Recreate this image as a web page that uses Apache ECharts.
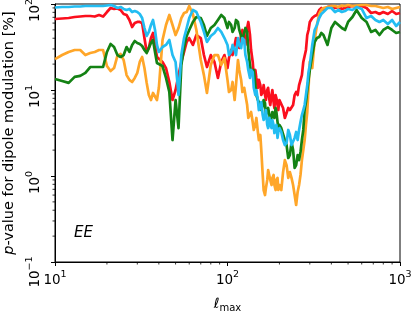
<!DOCTYPE html>
<html>
<head>
<meta charset="utf-8">
<script src="https://cdn.jsdelivr.net/npm/echarts@6/dist/echarts.min.js"></script>
<style>
  html,body{margin:0;padding:0;background:#fff;}
  #chart{width:411px;height:313px;}
</style>
</head>
<body>
<div id="chart"></div>
<script>
// multipole cut l_max
const ell = [10,11,12,13,14,15,16,17,18,19,20,21,22,23,24,25,26,27,28,29,30,31,32,33,34,35,36,37,38,39,40,
  42,44,46,48,50,52,54,56,58,60,
  63,66,70,73,76,80,84,88,92,96,
  100,102,105,107,110,112,115,117,120,122,125,127,130,132,135,137,140,142,145,147,
  150,152,155,157,160,162,165,167,170,172,175,177,180,182,185,187,190,192,195,197,200,
  205,210,215,220,225,230,235,240,245,250,255,260,265,270,275,280,285,290,295,300,
  310,320,330,340,350,360,
  380,400,420,440,460,480,500,
  530,560,600,640,680,720,760,800,850,900,950,1000];

// p-values [%]
const pRed = [66.9,67.8,68.7,70.6,71.5,72.5,72.5,71.5,74.5,71.5,80.7,89.9,87.5,88.7,85.2,76.5,74.5,65.2,54.0,60.1,61.8,61.8,60.1,40.2,27.7,30.8,40.2,46.0,33.4,24.2,23.6,
  21.2,18.0,12.4,7.65,10.0,14.9,21.2,27.7,36.2,40.2,
  33.4,43.6,40.2,25.5,18.5,25.5,21.2,13.8,21.2,25.5,
  18.0,23.6,29.2,25.5,33.4,40.2,36.2,30.8,43.6,49.9,38.1,33.4,52.6,61.8,43.6,29.2,21.2,14.9,17.1,13.8,
  10.6,13.1,11.4,8.75,9.48,11.4,8.75,7.65,10.0,10.6,7.65,6.69,8.75,10.0,7.25,6.18,8.75,8.07,6.69,5.85,7.65,
  8.07,6.18,4.73,4.73,6.18,5.85,5.55,6.69,8.75,9.48,8.75,11.4,11.4,14.9,21.2,22.3,29.2,43.6,49.9,61.8,
  68.7,72.5,74.5,85.2,89.9,85.2,
  92.3,94.8,89.9,92.3,87.5,89.9,92.3,
  94.8,92.3,94.8,89.9,78.6,80.7,76.5,80.7,76.5,82.9,76.5,78.6];

const pOrange = [22.9,25.5,27.7,29.2,29.2,25.5,26.9,27.7,29.2,29.2,19.0,16.6,18.0,24.9,26.2,22.3,14.9,13.1,12.4,13.8,15.8,21.2,24.2,18.0,12.1,8.75,7.65,9.23,8.75,7.65,10.6,
  38.1,57.0,74.5,57.0,43.6,52.6,68.7,78.6,80.7,94.8,
  76.5,49.9,22.3,14.9,9.23,19.5,25.5,25.5,19.5,23.6,
  13.1,9.48,10.0,12.4,7.65,11.4,22.3,17.1,13.1,9.48,10.6,8.75,6.69,4.73,4.73,5.55,4.25,3.43,3.92,4.73,
  3.25,2.62,3.0,2.0,1.03,0.687,0.601,0.725,0.90,1.17,1.17,0.90,0.785,0.95,1.03,0.785,0.687,0.90,0.95,0.687,0.785,
  0.687,1.11,1.53,1.34,0.95,1.11,0.95,0.785,0.601,0.46,0.652,0.785,1.03,1.53,2.0,2.62,3.92,5.55,10.6,21.2,
  18.0,38.1,57.0,76.5,85.2,89.9,
  92.3,94.8,94.8,92.3,96.1,94.8,97.4,
  94.8,96.1,97.4,97.4,94.8,94.8,92.3,89.9,92.3,87.5,89.9,92.3];

const pGreen = [13.4,12.7,12.1,14.2,14.6,15.8,18.5,18.5,18.5,18.5,27.7,34.3,31.6,25.5,24.2,25.5,31.6,27.7,33.4,37.1,35.2,34.3,32.5,29.2,26.9,30.8,35.2,38.1,27.7,20.6,21.7,
  19.0,13.8,9.48,2.62,7.65,3.61,19.5,31.6,42.5,49.9,
  61.8,70.6,68.7,57.0,42.5,52.6,57.0,65.2,74.5,68.7,
  52.6,61.8,57.0,47.3,52.6,65.2,61.8,49.9,47.3,38.1,36.2,52.6,47.3,29.2,19.5,16.2,14.9,17.1,11.4,8.75,
  7.65,8.07,6.69,5.85,6.52,7.65,7.06,5.12,5.55,6.18,5.12,4.25,4.73,5.55,5.85,4.73,6.18,5.55,4.25,3.61,3.92,
  3.61,3.43,2.62,2.29,1.62,1.75,2.48,2.0,1.24,1.34,1.75,1.53,1.90,2.62,3.43,5.85,7.25,10.0,13.1,17.1,
  25.5,36.2,40.2,41.3,46.0,43.6,
  33.4,52.6,61.8,57.0,52.6,49.9,61.8,
  70.6,85.2,68.7,61.8,47.3,49.9,43.6,49.9,54.0,49.9,46.0,47.3];

const pBlue = [91.1,92.3,92.3,93.5,93.5,94.8,94.8,94.8,94.8,94.8,96.1,97.4,94.8,89.9,92.3,87.5,85.2,87.5,80.7,82.9,80.7,76.5,68.7,52.6,42.5,47.3,57.0,65.2,49.9,33.4,27.7,
  31.6,33.4,38.1,25.5,21.2,8.75,25.5,40.2,52.6,68.7,
  85.2,80.7,61.8,47.3,36.2,42.5,46.0,52.6,47.3,40.2,
  33.4,25.5,27.7,33.4,29.2,25.5,40.2,33.4,30.8,40.2,38.1,25.5,21.2,17.1,13.8,17.1,16.2,10.6,8.75,10.0,
  7.65,5.85,6.18,7.25,5.12,4.48,4.85,5.85,3.92,3.61,4.73,3.92,3.61,4.48,3.92,3.16,3.25,3.92,2.77,3.25,3.61,
  3.25,2.62,2.29,2.42,3.43,3.0,2.29,2.29,2.77,3.25,2.62,3.43,4.25,5.12,5.85,6.69,8.75,11.4,16.2,19.5,
  33.4,49.9,57.0,68.7,76.5,80.7,
  89.9,89.9,80.7,85.2,80.7,82.9,87.5,
  85.2,92.3,87.5,68.7,72.5,65.2,61.8,65.2,58.5,65.2,55.5,61.8];

// minor tick values
const xMinor = [20,30,40,50,60,70,80,90,200,300,400,500,600,700,800,900];
const yMinor = [0.2,0.3,0.4,0.5,0.6,0.7,0.8,0.9,2,3,4,5,6,7,8,9,20,30,40,50,60,70,80,90];

const X_MIN = 10, X_MAX = 1000, Y_MIN = 0.1, Y_MAX = 100;
const FONT = 'DejaVu Sans';

function powLabel(v){
    const e = Math.round(Math.log10(v));
    return e < 0 ? '{b|10}{n|\u2212' + (-e) + '}' : '{b|10}{s|' + e + '}';
}
const tickRich = {
    b:{fontSize:13.5,fontFamily:FONT,color:'#000',verticalAlign:'bottom',lineHeight:17},
    s:{fontSize:9.5,fontFamily:FONT,color:'#000',verticalAlign:'top',lineHeight:11},
    n:{fontSize:9.5,fontFamily:FONT,color:'#000',verticalAlign:'top',lineHeight:11}
};
// rotated y labels sit a little below their ticks, like the original
const yTickRich = {
    b:tickRich.b,
    s:Object.assign({},tickRich.s,{padding:[0,13,0,0]}),
    n:Object.assign({},tickRich.n,{padding:[0,20,0,0]})
};

function lineSeries(name,vals,color){
    return {
        name:name,
        type:'line',
        data:ell.map((l,i)=>[l,vals[i]]),
        showSymbol:false,
        lineStyle:{color:color,width:2.7,join:'round'},
        itemStyle:{color:color}
    };
}

const myChart = echarts.init(document.getElementById('chart'),null,{renderer:'canvas'});

const option = {
    animation:false,
    grid:{left:55,right:11,top:4,bottom:51,containLabel:false,outerBoundsMode:'none',
        show:true,borderColor:'#000',borderWidth:1,backgroundColor:'transparent'},
    xAxis:{
        type:'log',logBase:10,min:X_MIN,max:X_MAX,
        axisLine:{lineStyle:{color:'#000',width:1}},
        axisTick:{length:4,lineStyle:{color:'#000',width:1}},
        splitLine:{show:false},
        axisLabel:{formatter:powLabel,rich:tickRich,margin:8},
        name:'{l|\u2113}{m|max}',
        nameLocation:'middle',
        nameGap:35,
        nameTextStyle:{
            rich:{
                l:{fontSize:14,fontFamily:FONT,fontStyle:'italic',color:'#000',verticalAlign:'top',lineHeight:14},
                m:{fontSize:10,fontFamily:FONT,color:'#000',verticalAlign:'bottom',lineHeight:16}
            }
        }
    },
    yAxis:{
        type:'log',logBase:10,min:Y_MIN,max:Y_MAX,
        axisLine:{lineStyle:{color:'#000',width:1}},
        axisTick:{length:4,lineStyle:{color:'#000',width:1}},
        splitLine:{show:false},
        axisLabel:{formatter:powLabel,rich:yTickRich,rotate:90,margin:13},
        name:'{i|p}{n|-value for dipole modulation [%]}',
        nameLocation:'middle',
        nameGap:34,
        nameTextStyle:{
            rich:{
                i:{fontSize:14.5,fontFamily:FONT,fontStyle:'italic',color:'#000'},
                n:{fontSize:14.5,fontFamily:FONT,color:'#000'}
            }
        }
    },
    graphic:[{
        type:'text',left:74,top:226,
        style:{text:'EE',font:'italic 15px "DejaVu Sans"',fill:'#000'}
    }],
    series:[
        lineSeries('red',pRed,'#fb0f1d'),
        lineSeries('orange',pOrange,'#ffa629'),
        lineSeries('green',pGreen,'#148214'),
        lineSeries('blue',pBlue,'#23bdf2'),
        {
            type:'custom',
            silent:true,
            clip:false,
            data:xMinor.map(v=>[v,Y_MIN]),
            renderItem:function(params,api){
                const p = api.coord([api.value(0),api.value(1)]);
                return {type:'line',shape:{x1:p[0],y1:p[1],x2:p[0],y2:p[1]+2.5},style:{stroke:'#000',lineWidth:0.8}};
            }
        },
        {
            type:'custom',
            silent:true,
            clip:false,
            data:yMinor.map(v=>[X_MIN,v]),
            renderItem:function(params,api){
                const p = api.coord([api.value(0),api.value(1)]);
                return {type:'line',shape:{x1:p[0]-2.5,y1:p[1],x2:p[0],y2:p[1]},style:{stroke:'#000',lineWidth:0.8}};
            }
        }
    ]
};

myChart.setOption(option);
</script>
</body>
</html>
